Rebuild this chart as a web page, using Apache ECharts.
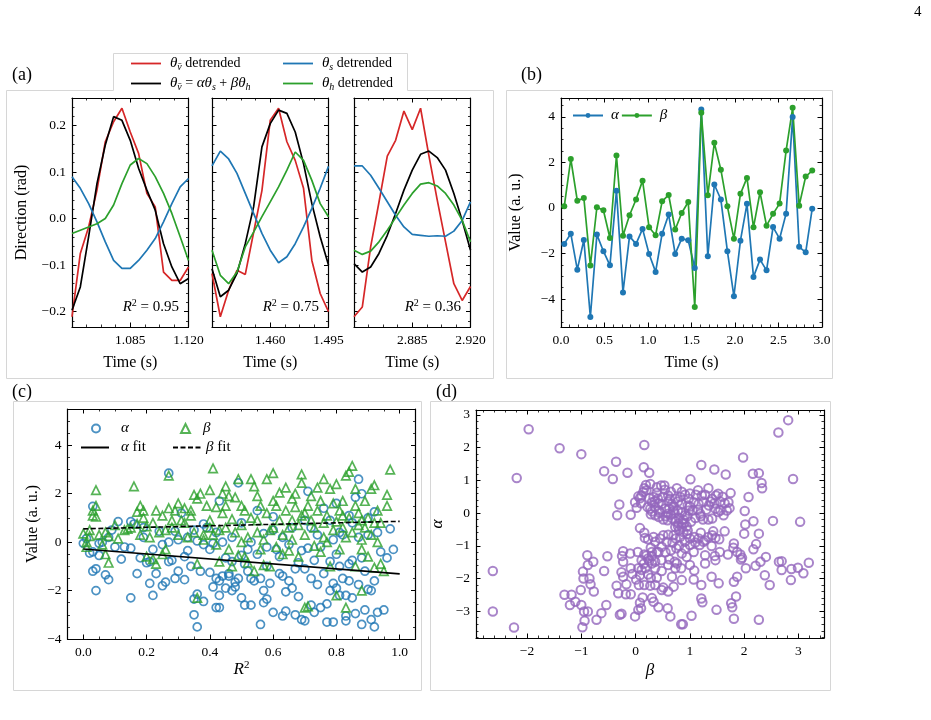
<!DOCTYPE html>
<html>
<head>
<meta charset="utf-8">
<script src="https://cdn.jsdelivr.net/npm/echarts@6.0.0/dist/echarts.min.js"></script>
<style>
html, body { margin: 0; padding: 0; background: #fff; }
#chart { width: 931px; height: 720px; }
</style>
</head>
<body>
<div id="chart"></div>
<script>
// ---- panel (a): three short windows, 5 ms sampling ----
const aTime1 = [1.050,1.055,1.060,1.065,1.070,1.075,1.080,1.085,1.090,1.095,1.100,1.105,1.110,1.115,1.120];
const aTime2 = [1.425,1.430,1.435,1.440,1.445,1.450,1.455,1.460,1.465,1.470,1.475,1.480,1.485,1.490,1.495];
const aTime3 = [2.850,2.855,2.860,2.865,2.870,2.875,2.880,2.885,2.890,2.895,2.900,2.905,2.910,2.915,2.920];

const vDet1 = [-0.211,-0.075,-0.018,0.061,0.165,0.208,0.237,0.186,0.140,0.054,0.025,-0.115,-0.133,-0.133,-0.104];
const vFit1 = [-0.197,-0.147,-0.039,0.075,0.158,0.219,0.211,0.168,0.108,0.061,0.018,-0.054,-0.104,-0.140,-0.129];
const sDet1 = [0.090,0.065,0.032,-0.007,-0.050,-0.090,-0.107,-0.107,-0.090,-0.068,-0.043,-0.007,0.032,0.068,0.086];
const hDet1 = [-0.032,-0.025,-0.018,-0.011,0.000,0.029,0.075,0.115,0.129,0.118,0.090,0.054,0.011,-0.039,-0.090];

const vDet2 = [-0.118,-0.211,-0.154,-0.111,-0.120,-0.030,0.060,0.211,0.237,0.165,0.125,0.065,-0.090,-0.161,-0.200];
const vFit2 = [-0.108,-0.168,-0.154,-0.118,-0.054,0.025,0.154,0.204,0.233,0.226,0.186,0.118,0.032,-0.039,-0.100];
const sDet2 = [0.113,0.145,0.128,0.097,0.054,0.011,-0.032,-0.068,-0.095,-0.082,-0.054,-0.018,0.022,0.065,0.112];
const hDet2 = [-0.068,-0.122,-0.140,-0.115,-0.061,-0.029,0.004,0.036,0.068,0.104,0.143,0.125,0.082,0.032,0.004];

const vDet3 = [-0.211,-0.190,-0.061,0.035,0.134,0.168,0.231,0.191,0.237,0.135,0.040,-0.050,-0.140,-0.176,-0.146];
const vFit3 = [-0.097,-0.115,-0.104,-0.075,-0.036,0.011,0.061,0.104,0.138,0.145,0.131,0.104,0.054,-0.004,-0.068];
const sDet3 = [0.113,0.113,0.093,0.065,0.036,0.007,-0.018,-0.034,-0.036,-0.038,-0.037,-0.038,-0.027,-0.004,0.036];
const hDet3 = [-0.068,-0.077,-0.070,-0.050,-0.025,0.002,0.029,0.054,0.074,0.077,0.070,0.054,0.029,-0.004,-0.050];

const aR2 = ['0.95', '0.75', '0.36'];

// ---- panel (b): alpha / beta over time ----
const bTime = [0.0375,0.1125,0.1875,0.2625,0.3375,0.4125,0.4875,0.5625,0.6375,0.7125,0.7875,0.8625,0.9375,1.0125,1.0875,1.1625,1.2375,1.3125,1.3875,1.4625,1.5375,1.6125,1.6875,1.7625,1.8375,1.9125,1.9875,2.0625,2.1375,2.2125,2.2875,2.3625,2.4375,2.5125,2.5875,2.6625,2.7375,2.8125,2.8875];
const bAlpha = [-1.58,-1.13,-2.71,-1.41,-4.79,-1.17,-1.90,-2.52,0.76,-3.71,-1.25,-1.58,-0.92,-2.02,-2.81,-1.13,-0.29,-2.02,-1.35,-1.42,-2.64,4.32,-2.12,1.03,0.37,-1.90,-3.88,-1.44,0.18,-3.03,-2.27,-2.74,-0.84,-1.35,-0.25,3.99,-1.71,-1.95,-0.03];
const bBeta = [0.07,2.15,0.32,0.44,-2.53,0.03,-0.10,-1.32,2.30,-1.22,-0.32,0.37,1.20,-0.85,-1.20,0.29,0.57,-0.95,-0.22,0.26,-4.35,4.18,0.56,2.86,1.68,0.07,-1.35,0.62,1.32,-0.85,0.69,-0.78,-0.26,0.19,2.52,4.40,0.10,1.38,1.64];

// ---- panel (c): [R^2, value] ----
const cAlpha = [[0.00,-0.05],[0.01,0.15],[0.02,-0.45],[0.03,-0.40],[0.03,1.48],[0.03,-1.2],[0.04,-1.1],[0.04,-2.0],[0.05,-0.55],[0.05,-0.05],[0.07,-1.35],[0.08,-1.55],[0.08,0.2],[0.09,0.5],[0.11,0.85],[0.12,-0.7],[0.15,-2.3],[0.15,-0.25],[0.15,0.85],[0.16,0.75],[0.17,-1.3],[0.18,-0.65],[0.19,0.6],[0.20,-0.85],[0.21,-0.8],[0.21,-1.7],[0.22,-2.2],[0.23,-1.3],[0.24,0.45],[0.25,-1.8],[0.25,-0.1],[0.26,-1.65],[0.27,2.85],[0.27,-0.8],[0.28,-0.75],[0.29,-1.5],[0.29,0.45],[0.30,-1.2],[0.30,0.1],[0.31,1.2],[0.32,-0.6],[0.32,-1.55],[0.33,0.2],[0.34,-1.0],[0.35,-2.35],[0.35,-3.0],[0.36,-3.5],[0.36,-2.15],[0.37,-1.2],[0.38,-2.45],[0.38,0.75],[0.38,-0.1],[0.40,-0.3],[0.40,-1.25],[0.41,-0.05],[0.41,-1.85],[0.42,-2.7],[0.42,-1.5],[0.43,-2.7],[0.43,-1.6],[0.43,-2.2],[0.43,1.7],[0.44,-1.4],[0.45,-0.65],[0.45,-1.9],[0.46,-1.4],[0.46,-1.3],[0.47,-2.0],[0.47,-0.8],[0.48,-1.65],[0.48,-1.85],[0.49,2.45],[0.49,-1.5],[0.50,-2.3],[0.50,-0.55],[0.51,-2.6],[0.51,-0.9],[0.52,-0.3],[0.52,-1.2],[0.53,-2.6],[0.53,-1.5],[0.54,-1.6],[0.55,1.3],[0.55,-0.5],[0.56,-3.4],[0.56,-1.5],[0.57,-2.0],[0.57,-2.5],[0.58,-2.35],[0.58,-1.0],[0.59,-1.7],[0.60,-2.9],[0.60,1.05],[0.61,-0.3],[0.62,-1.3],[0.62,-0.6],[0.63,-1.4],[0.63,-3.05],[0.64,-2.85],[0.64,-2.05],[0.65,-1.6],[0.65,-0.1],[0.66,-1.9],[0.67,-3.0],[0.67,-1.1],[0.68,-2.25],[0.68,-0.85],[0.69,-3.2],[0.70,-3.25],[0.70,-1.1],[0.71,2.1],[0.71,-0.25],[0.72,-1.5],[0.72,-2.6],[0.73,-2.9],[0.73,-0.75],[0.74,-1.75],[0.74,0.3],[0.75,-2.7],[0.76,-1.3],[0.76,1.4],[0.77,-3.3],[0.77,-2.55],[0.78,-0.8],[0.78,-2.0],[0.79,-3.3],[0.79,-1.7],[0.80,-1.9],[0.80,-0.5],[0.80,1.6],[0.81,-2.2],[0.81,-1.0],[0.82,-1.5],[0.82,0.3],[0.83,-3.05],[0.83,-3.25],[0.83,-2.2],[0.84,-1.6],[0.84,-0.9],[0.85,-2.3],[0.85,-0.75],[0.86,1.85],[0.86,-2.95],[0.87,-1.75],[0.87,2.6],[0.88,-3.4],[0.88,-0.65],[0.88,2.0],[0.89,-1.2],[0.89,-2.8],[0.90,-1.95],[0.90,0.3],[0.91,-3.2],[0.91,-2.0],[0.92,-3.5],[0.92,1.25],[0.92,-1.6],[0.93,-2.9],[0.94,-0.4],[0.95,-2.8],[0.96,-0.65],[0.97,0.55],[0.98,-0.3],[0.35,0.5],[0.42,0.4],[0.47,0.2],[0.50,0.8],[0.53,0.0],[0.57,0.35],[0.60,0.5],[0.63,0.2],[0.66,0.6],[0.69,-0.35],[0.72,0.6],[0.75,-0.2],[0.78,0.9],[0.81,0.4],[0.84,1.1],[0.87,0.2],[0.90,1.0],[0.93,0.4],[0.85,0.8],[0.79,0.1],[0.70,0.9],[0.58,-0.2],[0.44,0.0],[0.39,0.6],[0.36,0.05],[0.33,-0.35],[0.27,0.0],[0.22,-0.3],[0.19,0.2],[0.13,-0.2],[0.06,0.0],[0.10,-0.2]];
const cBeta = [[0.00,0.35],[0.01,0.0],[0.01,-0.2],[0.02,0.5],[0.02,0.25],[0.03,1.1],[0.03,1.3],[0.04,2.15],[0.04,1.5],[0.04,1.05],[0.05,0.3],[0.06,-0.1],[0.07,-0.5],[0.07,0.4],[0.08,-0.85],[0.08,0.25],[0.10,0.7],[0.11,0.15],[0.13,0.5],[0.14,0.55],[0.15,0.6],[0.16,2.3],[0.17,1.25],[0.17,0.75],[0.18,1.5],[0.18,0.3],[0.19,1.3],[0.19,1.0],[0.20,0.65],[0.21,0.2],[0.22,-0.7],[0.22,0.8],[0.23,-0.9],[0.23,1.3],[0.24,0.4],[0.25,1.1],[0.25,-0.5],[0.26,0.5],[0.26,-0.3],[0.27,2.75],[0.27,1.4],[0.28,0.9],[0.29,1.3],[0.30,1.6],[0.30,0.3],[0.31,0.9],[0.32,1.4],[0.32,0.8],[0.33,0.2],[0.34,1.3],[0.35,1.95],[0.35,0.4],[0.36,-0.9],[0.36,1.8],[0.36,-2.3],[0.37,2.0],[0.38,0.1],[0.38,0.3],[0.39,1.5],[0.40,2.15],[0.40,0.9],[0.41,3.05],[0.41,0.3],[0.42,1.45],[0.42,-0.1],[0.43,0.5],[0.43,-0.8],[0.44,2.0],[0.44,1.2],[0.45,0.6],[0.45,2.3],[0.46,-0.3],[0.46,1.9],[0.47,0.95],[0.47,-1.0],[0.48,1.85],[0.48,0.4],[0.49,2.6],[0.49,-0.55],[0.50,1.5],[0.50,0.7],[0.51,1.3],[0.51,-0.6],[0.52,0.2],[0.52,-0.85],[0.53,2.6],[0.53,1.0],[0.54,-1.2],[0.54,2.3],[0.55,0.4],[0.55,0.9],[0.56,-0.3],[0.56,1.5],[0.57,0.1],[0.57,-0.95],[0.58,2.6],[0.58,1.2],[0.59,-1.0],[0.59,0.5],[0.60,2.85],[0.60,1.7],[0.61,1.5],[0.61,-0.2],[0.62,0.9],[0.62,2.05],[0.63,0.3],[0.63,-0.5],[0.64,2.25],[0.64,1.3],[0.65,0.6],[0.65,-0.35],[0.66,1.8],[0.66,0.1],[0.67,1.45],[0.67,2.0],[0.68,0.7],[0.68,-0.6],[0.69,2.45],[0.69,1.1],[0.69,2.8],[0.70,0.3],[0.70,-2.7],[0.71,-2.65],[0.71,1.5],[0.72,0.9],[0.72,1.9],[0.73,-0.15],[0.73,0.6],[0.74,2.25],[0.74,1.3],[0.75,1.7],[0.75,-0.4],[0.76,2.6],[0.76,0.8],[0.77,1.1],[0.77,0.0],[0.78,2.2],[0.78,-1.0],[0.79,0.5],[0.79,1.6],[0.80,2.4],[0.80,0.85],[0.80,-2.2],[0.81,1.3],[0.81,-0.3],[0.82,0.6],[0.82,1.7],[0.83,2.75],[0.83,-2.7],[0.83,0.2],[0.84,2.9],[0.84,1.0],[0.85,3.15],[0.85,0.4],[0.86,1.5],[0.86,-1.0],[0.86,2.2],[0.87,0.7],[0.87,1.2],[0.88,-0.3],[0.88,-2.0],[0.88,0.1],[0.89,1.7],[0.89,0.6],[0.90,-0.6],[0.90,1.0],[0.91,2.2],[0.91,0.3],[0.92,-1.05],[0.92,2.35],[0.93,0.0],[0.93,1.3],[0.94,-0.9],[0.95,-1.2],[0.96,1.95],[0.96,1.5],[0.97,3.0],[0.94,0.8],[0.60,0.6],[0.55,1.9],[0.50,0.0],[0.45,1.5],[0.40,0.6],[0.34,1.1],[0.28,0.6],[0.20,-0.6],[0.66,0.9],[0.70,1.2],[0.76,0.2],[0.82,1.1],[0.88,0.9],[0.92,0.8]];
const fitR2 = [0, 1];
const fitAlpha = [-0.28, -1.31];
const fitBeta = [0.55, 0.86];

// ---- panel (d): [beta, alpha] ----
const dPts = [[-1.97,2.56],[-1.40,1.98],[-1.00,1.80],[-2.19,1.07],[-0.58,1.28],[-0.36,1.57],[-0.42,1.04],[-0.15,1.23],[0.16,2.08],[0.15,1.40],[0.25,1.23],[-0.30,0.26],[-0.34,-0.07],[-0.09,-0.05],[-2.63,-1.77],[-2.63,-3.01],[-2.24,-3.50],
[1.01,1.03],[1.21,1.47],[1.45,1.33],[1.66,1.18],[1.98,1.70],[2.08,0.49],[2.16,1.20],[2.27,1.22],[2.32,0.92],[2.33,0.76],[2.63,2.46],[2.81,2.84],[2.90,1.04],[3.03,-0.27],[2.53,-0.24],[2.01,0.06],[2.02,-0.35],[2.17,-0.25],[2.00,-0.63],[2.27,-0.63],[2.22,-0.95],[2.17,-1.11],[2.03,-1.69],[2.21,-1.61],[2.30,-1.49],[2.40,-1.34],[2.38,-1.90],[2.47,-2.20],[2.27,-3.26],[2.64,-1.49],[2.69,-1.47],[2.69,-1.74],[2.87,-1.71],[2.86,-2.05],[2.99,-1.67],[3.09,-1.84],[3.19,-1.52],
[1.87,-1.19],[1.93,-1.27],[1.96,-1.37],[1.94,-1.42],[1.81,-0.93],[1.80,-1.06],[1.70,-1.27],[1.87,-1.95],[1.81,-2.10],[1.85,-2.55],[1.76,-2.76],[1.78,-2.88],[1.81,-3.23],[1.49,-2.96],[1.53,-2.15],[1.40,-1.95],[1.47,-1.44],[1.46,-1.31],[1.55,-1.19],[1.28,-1.54],[1.28,-1.29],[1.40,-1.01],[1.21,-2.20],[1.21,-2.61],[1.23,-2.73],[1.03,-3.14],[0.84,-3.40],[0.87,-3.40],[0.85,-2.05],[1.07,-2.03],[1.08,-1.76],[1.00,-1.59],[0.73,-1.69],[0.76,-1.54],[0.67,-1.95],[0.70,-2.25],[0.59,-2.91],[0.64,-3.16],[0.30,-2.60],[0.33,-2.71],[0.13,-2.58],[0.10,-2.91],[-0.01,-3.16],[0.05,-2.96],[0.08,-2.74],[0.42,-2.88],[0.48,-2.35],[0.51,-2.28],[0.60,-2.40],[0.36,-2.20],[0.27,-2.22],[0.16,-2.20],[0.06,-2.20],[0.28,-1.98],[0.39,-1.98],[0.48,-1.77],[0.36,-1.69],[0.11,-1.74],[0.08,-1.90],[0.05,-1.69],[0.11,-1.44],[0.23,-1.39],[0.30,-1.32],[0.16,-1.27],[0.04,-1.19],[-0.10,-1.24],[-0.23,-1.17],[-0.25,-1.31],[-0.23,-1.49],[-0.26,-1.81],[-0.23,-1.95],[-0.09,-1.69],[-0.06,-1.86],[-0.17,-2.18],[-0.18,-2.48],[-0.09,-2.48],[-0.32,-2.45],[-0.35,-2.22],[-0.29,-3.11],[-0.26,-3.08],[0.01,-2.03],[-0.52,-1.32],[-0.58,-1.77],[-0.54,-2.81],[-0.63,-3.06],[-0.72,-3.26],[-0.77,-2.40],[-0.83,-2.18],[-0.78,-1.49],[-0.89,-1.29],[-0.88,-1.59],[-0.85,-2.00],[-0.97,-1.79],[-0.96,-2.00],[-1.01,-2.35],[-1.00,-2.81],[-0.95,-3.01],[-0.94,-3.29],[-0.98,-3.49],[-1.18,-2.50],[-1.21,-2.81],[-1.11,-2.71],[-1.31,-2.50],[-0.88,-3.01],
[-0.01,0.33],[0.02,0.16],[0.05,0.51],[0.11,0.54],[0.14,0.64],[0.16,0.76],[0.19,0.86],[0.27,0.89],[0.39,0.79],[0.47,0.84],[0.53,0.84],[0.54,0.71],[0.60,0.54],[0.76,0.76],[0.73,0.44],[0.78,0.35],[0.85,0.28],[0.91,0.56],[0.96,0.23],[1.07,0.33],[1.11,0.56],[1.16,0.28],[1.28,0.56],[1.34,0.76],[1.38,0.35],[1.41,0.44],[1.48,0.54],[1.52,0.59],[1.56,0.35],[1.64,0.30],[1.71,0.33],[1.75,0.61],[1.73,0.15],[1.68,0.08],[1.62,-0.07],[1.52,0.03],[1.41,-0.17],[1.34,-0.20],[1.24,-0.20],[1.19,-0.02],[1.10,-0.15],[1.02,-0.27],[0.94,-0.41],[0.85,-0.43],[0.79,-0.32],[0.73,-0.25],[0.68,-0.17],[0.59,-0.22],[0.51,-0.20],[0.43,-0.12],[0.36,-0.07],[0.28,-0.04],[0.27,0.13],[0.30,0.33],[0.33,0.49],[0.41,0.44],[0.48,0.28],[0.54,0.13],[0.62,0.13],[0.70,0.08],[0.78,0.08],[0.85,0.01],[0.91,-0.07],[0.98,0.08],[1.05,0.08],[0.67,0.28],[0.60,-0.02],[0.43,0.08],[0.36,0.18],[0.22,0.18],[0.39,0.62],[0.63,0.44],[0.82,0.49],[0.98,0.44],[1.22,0.54],[1.35,0.23],[1.47,0.13],[1.56,0.08],[0.73,-0.43],[0.80,-0.53],[0.88,-0.58],[0.96,-0.53],
[0.45,0.0],[0.55,-0.1],[0.65,-0.05],[0.72,0.0],[0.80,-0.15],[0.88,-0.2],[0.95,-0.1],[1.00,0.2],[0.70,0.2],[0.60,0.35],[0.50,0.5],[0.42,0.3],[0.35,0.35],[0.30,0.05],[0.25,0.45],[0.85,-0.3],[0.78,-0.4],[0.90,-0.3],[1.15,0.1],[1.25,0.35],[1.30,0.1],[1.45,0.3],[1.60,0.5],[1.20,-0.1],[0.10,0.3],[0.08,0.45],[0.20,0.7],[0.65,0.65],[0.85,0.65],[1.00,0.6],[1.15,0.7],
[0.08,-0.46],[0.16,-0.60],[0.17,-0.76],[0.23,-0.80],[0.33,-0.73],[0.36,-0.88],[0.45,-0.78],[0.51,-0.68],[0.60,-0.66],[0.70,-0.68],[0.74,-0.78],[0.82,-0.73],[0.91,-0.88],[1.00,-0.78],[1.08,-0.73],[1.16,-0.78],[1.25,-0.88],[1.34,-0.73],[1.41,-0.68],[1.47,-0.76],[1.54,-0.80],[1.64,-0.56],[1.43,-0.56],[1.00,-0.98],[0.91,-1.08],[1.07,-1.19],[0.85,-1.24],[0.75,-1.08],[0.65,-1.14],[0.57,-0.88],[0.48,-1.03],[0.39,-1.19],[0.30,-1.19],[0.28,-1.06],[0.62,-1.41],[0.72,-1.49],[0.48,-1.44],[0.60,-1.59],[0.84,-1.69],[0.94,-1.34],[1.18,-0.98],[1.28,-0.83],[0.42,-1.19],[0.30,-1.54],[0.18,-1.69],[0.23,-1.88],[0.36,-1.49],
[0.20,-1.3],[0.25,-1.45],[0.15,-1.55],[0.55,-1.2],[0.80,-1.0],[1.10,-0.9],[0.68,-0.9],[0.95,-0.65],[1.20,-0.6]];

const SERIF = '"Liberation Serif", "DejaVu Serif", serif';
const RED = '#d62728', BLUE = '#1f77b4', GREEN = '#2ca02c', BLACK = '#000000', PURPLE = '#9467bd';
const BOX = '#d6d6d6';

const minus = s => s.replace('-', '\u2212');
const fix = d => v => minus((Math.abs(v) < 1e-9 ? 0 : v).toFixed(d));

const grids = [], xAxes = [], yAxes = [], series = [];

function axisPair(dim, gi, o) {
    const make = mirror => ({
        type: 'value', gridIndex: gi,
        position: dim === 'x' ? (mirror ? 'top' : 'bottom') : (mirror ? 'right' : 'left'),
        min: o.min, max: o.max, interval: o.interval,
        axisLine: {show: true, onZero: false, lineStyle: {color: '#000', width: 1.2}},
        axisTick: {show: true, inside: true, length: 4.5, lineStyle: {color: '#000', width: 1}},
        minorTick: {show: true, splitNumber: o.minor, length: 2.5, lineStyle: {color: '#000', width: 0.8}},
        splitLine: {show: false},
        axisLabel: {
            show: !mirror && !o.noLabel, formatter: o.fmt, fontFamily: SERIF, fontSize: 13.5,
            color: '#000', margin: 6, showMinLabel: o.showMin, showMaxLabel: o.showMax
        },
        name: mirror ? '' : (o.name || ''),
        nameLocation: 'middle', nameGap: o.gap,
        nameTextStyle: Object.assign({fontFamily: SERIF, fontSize: 16, color: '#000'}, o.nameStyle || {}),
        silent: true
    });
    return [make(false), make(true)];
}

function addPanel(box, xo, yo) {
    const gi = grids.length;
    grids.push(Object.assign({outerBoundsMode: 'none', containLabel: false, show: false}, box));
    const xi = xAxes.length, yi = yAxes.length;
    xAxes.push(...axisPair('x', gi, xo));
    yAxes.push(...axisPair('y', gi, yo));
    return {xi, yi};
}

// ---- (a) ----
const aWin = [
    {left: 72, t: aTime1, lines: [vDet1, vFit1, sDet1, hDet1], min: 1.050, max: 1.120},
    {left: 212, t: aTime2, lines: [vDet2, vFit2, sDet2, hDet2], min: 1.425, max: 1.495},
    {left: 354, t: aTime3, lines: [vDet3, vFit3, sDet3, hDet3], min: 2.850, max: 2.920}
];
const aColors = [RED, BLACK, BLUE, GREEN];
aWin.forEach((w, k) => {
    const ax = addPanel({left: w.left, top: 98, width: 116.5, height: 229},
        {min: w.min, max: w.max, interval: 0.035, minor: 4, fmt: fix(3), showMin: false,
         name: 'Time (s)', gap: 28},
        {min: -0.233, max: 0.259, minor: 5, fmt: fix(1), showMin: false, showMax: false,
         noLabel: k > 0, name: k === 0 ? 'Direction (rad)' : '', gap: 42});
    w.lines.forEach((vals, j) => {
        series.push({
            type: 'line', xAxisIndex: ax.xi, yAxisIndex: ax.yi,
            data: w.t.map((t, i) => [t, vals[i]]),
            symbol: 'none', silent: true,
            lineStyle: {color: aColors[j], width: 1.7}
        });
    });
});

// ---- (b) ----
const axB = addPanel({left: 561, top: 98, width: 261, height: 229},
    {min: 0, max: 3, interval: 0.5, minor: 5, fmt: fix(1), name: 'Time (s)', gap: 28},
    {min: -5.23, max: 4.83, minor: 4, fmt: fix(0), showMin: false, showMax: false,
     name: 'Value (a. u.)', gap: 37});
[['bA', bAlpha, BLUE], ['bB', bBeta, GREEN]].forEach(([name, vals, c]) => {
    series.push({
        name, type: 'line', xAxisIndex: axB.xi, yAxisIndex: axB.yi,
        data: bTime.map((t, i) => [t, vals[i]]),
        symbol: 'circle', symbolSize: 6, silent: true,
        itemStyle: {color: c}, lineStyle: {color: c, width: 1.7}
    });
});

// ---- (c) ----
const axC = addPanel({left: 67.5, top: 409, width: 348, height: 230},
    {min: -0.05, max: 1.05, minor: 4, fmt: fix(1), showMin: false, showMax: false,
     name: '{r|R}{s|2}', gap: 18,
     nameStyle: {rich: {
         r: {fontFamily: SERIF, fontStyle: 'italic', fontSize: 17, lineHeight: 20, verticalAlign: 'middle'},
         s: {fontFamily: SERIF, fontSize: 11, lineHeight: 10, verticalAlign: 'top'}}}},
    {min: -4, max: 5.5, interval: 2, minor: 4, fmt: fix(0), showMax: false,
     name: 'Value (a. u.)', gap: 27});
series.push({
    name: 'cA', type: 'scatter', xAxisIndex: axC.xi, yAxisIndex: axC.yi, data: cAlpha,
    symbol: 'circle', symbolSize: 8, silent: true,
    itemStyle: {color: 'rgba(0,0,0,0)', borderColor: BLUE, borderWidth: 1.7}
});
series.push({
    name: 'cB', type: 'scatter', xAxisIndex: axC.xi, yAxisIndex: axC.yi, data: cBeta,
    symbol: 'triangle', symbolSize: 8.5, silent: true,
    itemStyle: {color: 'rgba(0,0,0,0)', borderColor: GREEN, borderWidth: 1.7}
});
series.push({
    name: 'cAf', type: 'line', xAxisIndex: axC.xi, yAxisIndex: axC.yi,
    data: fitR2.map((r, i) => [r, fitAlpha[i]]), symbol: 'none', silent: true,
    itemStyle: {color: 'rgba(0,0,0,0)'}, lineStyle: {color: '#000', width: 1.6}, z: 5
});
series.push({
    name: 'cBf', type: 'line', xAxisIndex: axC.xi, yAxisIndex: axC.yi,
    data: fitR2.map((r, i) => [r, fitBeta[i]]), symbol: 'none', silent: true,
    itemStyle: {color: 'rgba(0,0,0,0)'}, lineStyle: {color: '#000', width: 1.6, type: [5, 2.5]}, z: 5
});

// ---- (d) ----
const axD = addPanel({left: 476, top: 410, width: 348, height: 228},
    {min: -2.94, max: 3.47, minor: 5, fmt: fix(0), showMin: false, showMax: false,
     name: 'β', gap: 24, nameStyle: {fontStyle: 'italic', fontSize: 17}},
    {min: -3.82, max: 3.15, minor: 5, fmt: fix(0), showMin: false, showMax: false,
     name: 'α', gap: 30, nameStyle: {fontStyle: 'italic', fontSize: 17}});
series.push({
    type: 'scatter', xAxisIndex: axD.xi, yAxisIndex: axD.yi, data: dPts,
    symbol: 'circle', symbolSize: 8.5, silent: true,
    itemStyle: {color: 'rgba(0,0,0,0)', borderColor: PURPLE, borderWidth: 2}
});

// ---- legends ----
const legendNames = {
    bA: '{i|α}', bB: '{i|β}',
    cA: '{i|α}', cB: '{i|β}', cAf: '{i|α}{r| fit}', cBf: '{i|β}{r| fit}'
};
const legRich = {
    i: {fontFamily: SERIF, fontStyle: 'italic', fontSize: 15, color: '#000'},
    r: {fontFamily: SERIF, fontSize: 15, color: '#000'}
};
const oneLegend = (names, left, top, w, h, gap, pad) => ({
    orient: 'horizontal', padding: 0, selectedMode: false,
    data: names, left, top, itemWidth: w, itemHeight: h, itemGap: gap,
    formatter: n => legendNames[n],
    textStyle: {rich: legRich, padding: [0, 0, 0, pad]}
});
const legends = [
    oneLegend(['bA', 'bB'], 572, 108, 30, 6, 2, 3),
    oneLegend(['cA'], 91, 421, 8, 8, 0, 16),
    oneLegend(['cB'], 180, 421, 9, 9, 0, 8),
    oneLegend(['cAf'], 80, 440, 28, 8, 0, 7),
    oneLegend(['cBf'], 172, 440, 28, 8, 0, 0)
];

// ---- annotations: frames, panel letters, legend of (a), R^2 tags ----
const textEl = (x, y, text, extra) => ({
    type: 'text', x, y, silent: true,
    style: Object.assign({text, fill: '#000', font: '18px ' + SERIF, textAlign: 'left', textVerticalAlign: 'middle'}, extra || {})
});
const mathRich = {
    m: {fontFamily: SERIF, fontStyle: 'italic', fontSize: 15, lineHeight: 18, verticalAlign: 'middle'},
    s: {fontFamily: SERIF, fontStyle: 'italic', fontSize: 10, lineHeight: 10, verticalAlign: 'bottom'},
    u: {fontFamily: SERIF, fontSize: 10, lineHeight: 10, verticalAlign: 'top'},
    r: {fontFamily: SERIF, fontSize: 14, lineHeight: 18, verticalAlign: 'middle'}
};
const graphic = [
    {type: 'polyline', silent: true, shape: {points: [[113.5, 90.5], [6.5, 90.5], [6.5, 378.5], [493.5, 378.5], [493.5, 90.5], [407.5, 90.5]]},
     style: {stroke: BOX, fill: null, lineWidth: 1}},
    {type: 'polyline', silent: true, shape: {points: [[113.5, 90.5], [113.5, 53.5], [407.5, 53.5], [407.5, 90.5]]},
     style: {stroke: BOX, fill: null, lineWidth: 1}},
    {type: 'rect', silent: true, shape: {x: 506.5, y: 90.5, width: 326, height: 288}, style: {stroke: BOX, fill: null, lineWidth: 1}},
    {type: 'rect', silent: true, shape: {x: 13.5, y: 401.5, width: 408, height: 289}, style: {stroke: BOX, fill: null, lineWidth: 1}},
    {type: 'rect', silent: true, shape: {x: 430.5, y: 401.5, width: 400, height: 289}, style: {stroke: BOX, fill: null, lineWidth: 1}},
    textEl(12, 75, '(a)'), textEl(521, 75, '(b)'), textEl(12, 392, '(c)'), textEl(436, 392, '(d)'),
    textEl(914, 12, '4', {font: '15px ' + SERIF}),
    {type: 'line', silent: true, shape: {x1: 131, y1: 63.5, x2: 161, y2: 63.5}, style: {stroke: RED, lineWidth: 1.8}},
    {type: 'line', silent: true, shape: {x1: 131, y1: 83.5, x2: 161, y2: 83.5}, style: {stroke: BLACK, lineWidth: 1.8}},
    {type: 'line', silent: true, shape: {x1: 283, y1: 63.5, x2: 313, y2: 63.5}, style: {stroke: BLUE, lineWidth: 1.8}},
    {type: 'line', silent: true, shape: {x1: 283, y1: 83.5, x2: 313, y2: 83.5}, style: {stroke: GREEN, lineWidth: 1.8}},
    textEl(170, 63, '{m|θ}{s|v̄}{r| detrended}', {rich: mathRich}),
    textEl(170, 83, '{m|θ}{s|v̄}{r| = }{m|αθ}{s|s}{r| + }{m|βθ}{s|h}', {rich: mathRich}),
    textEl(322, 63, '{m|θ}{s|s}{r| detrended}', {rich: mathRich}),
    textEl(322, 83, '{m|θ}{s|h}{r| detrended}', {rich: mathRich})
];
const r2Right = [179, 319, 461];
aR2.forEach((v, k) => {
    graphic.push(textEl(r2Right[k], 307, '{m|R}{u|2}{r| = ' + v + '}',
        {rich: Object.assign({}, mathRich, {r: {fontFamily: SERIF, fontSize: 15, lineHeight: 18, verticalAlign: 'middle'}}),
         textAlign: 'right'}));
});

const chart = echarts.init(document.getElementById('chart'), null, {renderer: 'canvas'});
chart.setOption({
    backgroundColor: '#ffffff',
    animation: false,
    textStyle: {fontFamily: SERIF},
    grid: grids, xAxis: xAxes, yAxis: yAxes,
    legend: legends,
    series,
    graphic
});
</script>
</body>
</html>
